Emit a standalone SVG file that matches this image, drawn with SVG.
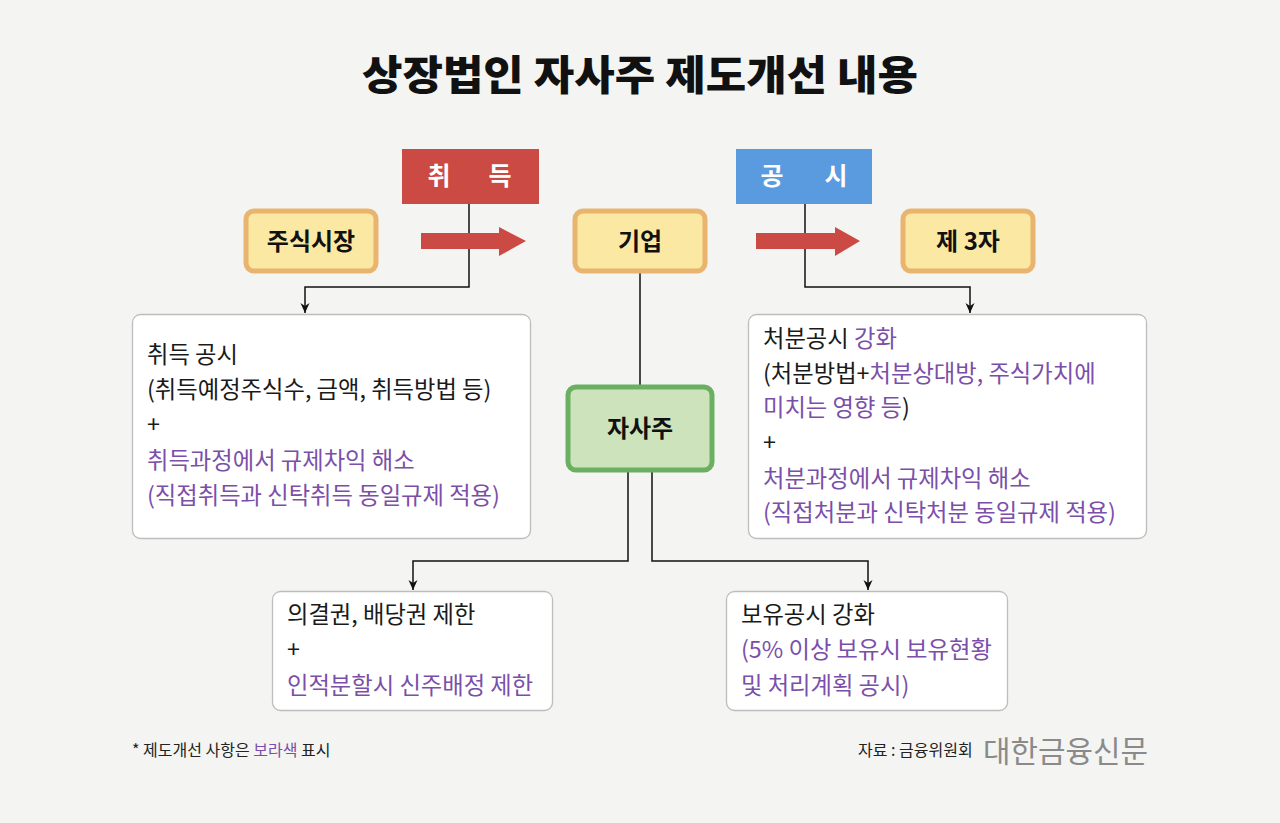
<svg xmlns="http://www.w3.org/2000/svg" width="1280" height="823" viewBox="0 0 1280 823">
<defs>
<style>
text{font-family:"Noto Sans CJK KR","Noto Sans",sans-serif;}
.title{font-size:41px;font-weight:900;fill:#111;}
.tag{font-size:25px;font-weight:700;fill:#fff;}
.yel{fill:#fbe9a3;stroke:#e8b46e;stroke-width:5;}
.grn{fill:#cde3bc;stroke:#6aaf62;stroke-width:5;}
.card{fill:#fff;stroke:#bdbdbd;stroke-width:1.3;}
.lbl{font-size:24px;font-weight:700;fill:#111;}
.tx{font-size:23.3px;font-weight:400;fill:#1a1a1a;}
.p{fill:#7b4fa9;}
.conn{fill:none;stroke:#111;stroke-width:1.5;}
.big{fill:#cc4a44;}
.small{font-size:16px;fill:#222;}
</style>
<marker id="ah" viewBox="0 0 10 10" refX="10" refY="5" markerWidth="10" markerHeight="10" markerUnits="userSpaceOnUse" orient="auto">
<path d="M0,0.5 L10,5 L0,9.5 L3,5 Z" fill="#111"/>
</marker>
</defs>
<rect width="1280" height="823" fill="#f4f4f2"/>
<text class="title" x="362" y="90" textLength="556" lengthAdjust="spacingAndGlyphs">상장법인 자사주 제도개선 내용</text>

<g id="connectors">
<polyline class="conn" points="469,204 469,287 305,287 305,313" marker-end="url(#ah)"/>
<polyline class="conn" points="805,204 805,287 970,287 970,313" marker-end="url(#ah)"/>
<line class="conn" x1="640" y1="273" x2="640" y2="386"/>
<polyline class="conn" points="628,472 628,561 413,561 413,590" marker-end="url(#ah)"/>
<polyline class="conn" points="652,472 652,561 868,561 868,590" marker-end="url(#ah)"/>
<polygon class="big" points="421,233 499,233 499,227 526,241 499,256 499,249 421,249"/>
<polygon class="big" points="756,233 835,233 835,227 860,241 835,256 835,249 756,249"/>
</g>

<g id="tag-acquire">
<rect x="402" y="149" width="137" height="55" fill="#cc4a44"/>
<text class="tag" x="439" y="185" text-anchor="middle">취</text>
<text class="tag" x="500" y="185" text-anchor="middle">득</text>
</g>
<g id="tag-disclose">
<rect x="736" y="149" width="136" height="55" fill="#5a9be0"/>
<text class="tag" x="772" y="185" text-anchor="middle">공</text>
<text class="tag" x="836" y="185" text-anchor="middle">시</text>
</g>

<g id="node-market">
<rect class="yel" x="246" y="211" width="130" height="60" rx="8"/>
<text class="lbl" x="311" y="250" text-anchor="middle">주식시장</text>
</g>
<g id="node-company">
<rect class="yel" x="575" y="211" width="130" height="60" rx="8"/>
<text class="lbl" x="640" y="250" text-anchor="middle">기업</text>
</g>
<g id="node-third">
<rect class="yel" x="903" y="211" width="130" height="60" rx="8"/>
<text class="lbl" x="968" y="250" text-anchor="middle">제 3자</text>
</g>
<g id="node-treasury">
<rect class="grn" x="568" y="387" width="144" height="83" rx="8"/>
<text class="lbl" x="640" y="437" text-anchor="middle">자사주</text>
</g>

<g id="box-acquire">
<rect class="card" x="132.5" y="314.5" width="398" height="224" rx="8"/>
<text class="tx" x="147" y="363">취득 공시</text>
<text class="tx" x="147" y="398">(취득예정주식수, 금액, 취득방법 등)</text>
<text class="tx" x="147" y="433">+</text>
<text class="tx p" x="147" y="469">취득과정에서 규제차익 해소</text>
<text class="tx p" x="147" y="504">(직접취득과 신탁취득 동일규제 적용)</text>
</g>

<g id="box-dispose">
<rect class="card" x="748.5" y="314.5" width="398" height="224" rx="8"/>
<text class="tx" x="763" y="347">처분공시 <tspan class="p">강화</tspan></text>
<text class="tx" x="763" y="382">(처분방법+<tspan class="p">처분상대방, 주식가치에</tspan></text>
<text class="tx" x="763" y="416"><tspan class="p">미치는 영향 등</tspan>)</text>
<text class="tx" x="763" y="451">+</text>
<text class="tx p" x="763" y="487">처분과정에서 규제차익 해소</text>
<text class="tx p" x="763" y="521">(직접처분과 신탁처분 동일규제 적용)</text>
</g>

<g id="box-rights">
<rect class="card" x="272.5" y="591.5" width="280" height="119" rx="8"/>
<text class="tx" x="287" y="623">의결권, 배당권 제한</text>
<text class="tx" x="287" y="658">+</text>
<text class="tx p" x="287" y="694">인적분할시 신주배정 제한</text>
</g>

<g id="box-holding">
<rect class="card" x="726.5" y="591.5" width="281" height="119" rx="8"/>
<text class="tx" x="741" y="623">보유공시 강화</text>
<text class="tx p" x="741" y="658">(5% 이상 보유시 보유현황</text>
<text class="tx p" x="741" y="694">및 처리계획 공시)</text>
</g>

<text class="small" x="132" y="756">* 제도개선 사항은 <tspan class="p">보라색</tspan> 표시</text>
<text class="small" x="858" y="756">자료 : 금융위원회</text>
<text x="983" y="762" font-size="30" fill="#8a8a8a" textLength="165" lengthAdjust="spacingAndGlyphs">대한금융신문</text>
</svg>
